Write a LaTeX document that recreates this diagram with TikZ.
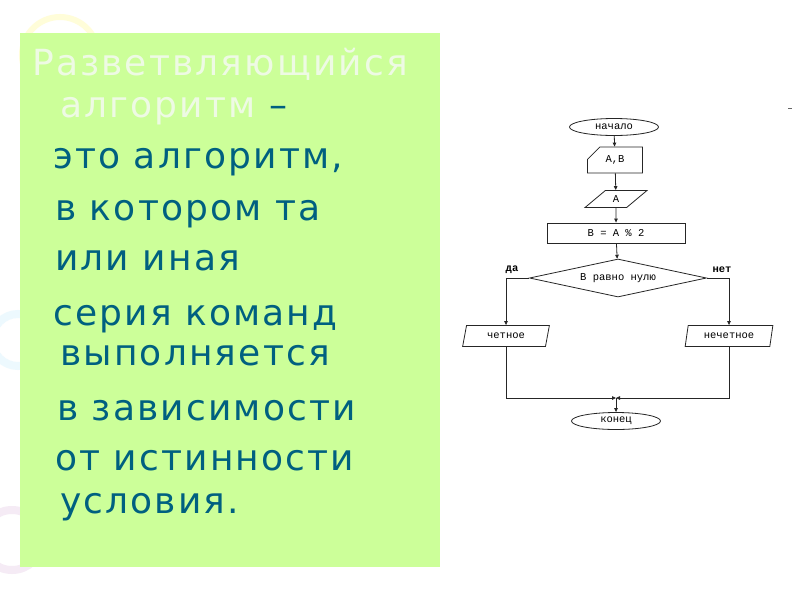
\documentclass[tikz,border=0pt]{standalone}
\usepackage{fontspec}
\setmainfont{DejaVu Sans}
\setmonofont{Liberation Mono}
\newfontfamily\slidefont[LetterSpace=6]{DejaVu Sans}
\usetikzlibrary{arrows.meta,shapes.geometric,shapes.misc}

\definecolor{slidegreen}{RGB}{204,255,153}
\definecolor{slideteal}{RGB}{0,96,128}
\definecolor{slidetitle}{RGB}{238,250,228}

\begin{document}
\begin{tikzpicture}[
  x=1pt, y=-1pt,
  arr/.style={-{Triangle[length=4pt,width=3.5pt]}, draw=black!85, line width=0.8pt},
  flow/.style={draw=black!85, line width=0.8pt, font=\ttfamily\fontsize{10.5}{12}\selectfont, inner sep=0pt},
  term/.style={flow, ellipse, minimum width=89pt, minimum height=17pt},
  io/.style={flow, trapezium, trapezium stretches=true, minimum height=21pt},
  card/.style={flow, chamfered rectangle, chamfered rectangle corners=north west,
    chamfered rectangle xsep=6pt, chamfered rectangle ysep=8pt, minimum width=55pt, minimum height=26pt},
  proc/.style={flow, rectangle, minimum width=138pt, minimum height=20pt},
  cond/.style={flow, diamond, aspect=4.6, minimum width=177pt, minimum height=38pt},
  side/.style={font=\ttfamily\bfseries\fontsize{10.5}{12}\selectfont},
  big/.style={anchor=base west, font=\slidefont\fontsize{36}{40}\selectfont, text=slideteal, inner sep=0pt},
  head/.style={big, text=slidetitle}
]
\useasboundingbox (0,0) rectangle (800,600);
\fill[white] (0,0) rectangle (800,600);

% faint background swirls
\draw[yellow!15, line width=6pt] (60,55) circle (38);
\draw[cyan!7, line width=8pt] (18,340) circle (26);
\draw[violet!8, line width=8pt] (12,540) circle (30);

% text panel
\fill[slidegreen] (20,33) rectangle (440,567);
\node[head] (t1) at (32,75) {Разветвляющийся};
\node[head] (t2) at (60,117) {алгоритм \textcolor{slideteal}{–}};
\node[big] (l1) at (53,168) {это алгоритм,};
\node[big] (l2) at (55,220) {в котором та};
\node[big] (l3) at (55,270) {или иная};
\node[big] (l4) at (53,325) {серия команд};
\node[big] (l5) at (60,365) {выполняется};
\node[big] (l6) at (57,420) {в зависимости};
\node[big] (l7) at (55,470) {от истинности};
\node[big] (l8) at (60,513) {условия.};

% flowchart
\node[term] (start) at (614,127) {начало};
\node[card] (ab) at (615,160) {A,B};
\node[io, trapezium left angle=49, trapezium right angle=131, minimum width=62pt, minimum height=17pt] (inA) at (616,199) {A};
\node[proc] (calc) at (616,233) {B = A \% 2};
\node[cond] (test) at (618,278) {В равно нулю};
\node[io, trapezium left angle=72, trapezium right angle=108, minimum width=87pt] (even) at (506,336) {четное};
\node[io, trapezium left angle=72, trapezium right angle=108, minimum width=88pt] (odd) at (729,336) {нечетное};
\node[term] (stop) at (616,421) {конец};
\node[side] (yes) at (512,270) {да};
\node[side] (no) at (722,270) {нет};
\coordinate (join) at (616,398);

\draw[arr] (start) -- (ab);
\draw[arr] (ab) -- (inA);
\draw[arr] (inA) -- (calc);
\draw[arr] (calc) -- (test);
\draw[arr] (test.west) -| (even);
\draw[arr] (test.east) -| (odd);
\draw[arr] (even) |- (join);
\draw[arr] (odd) |- (join);
\draw[arr] (join) -- (stop);

% stray mark top right
\draw[black!60, line width=0.8pt] (788,108) -- (792,108);

\end{tikzpicture}
\end{document}
